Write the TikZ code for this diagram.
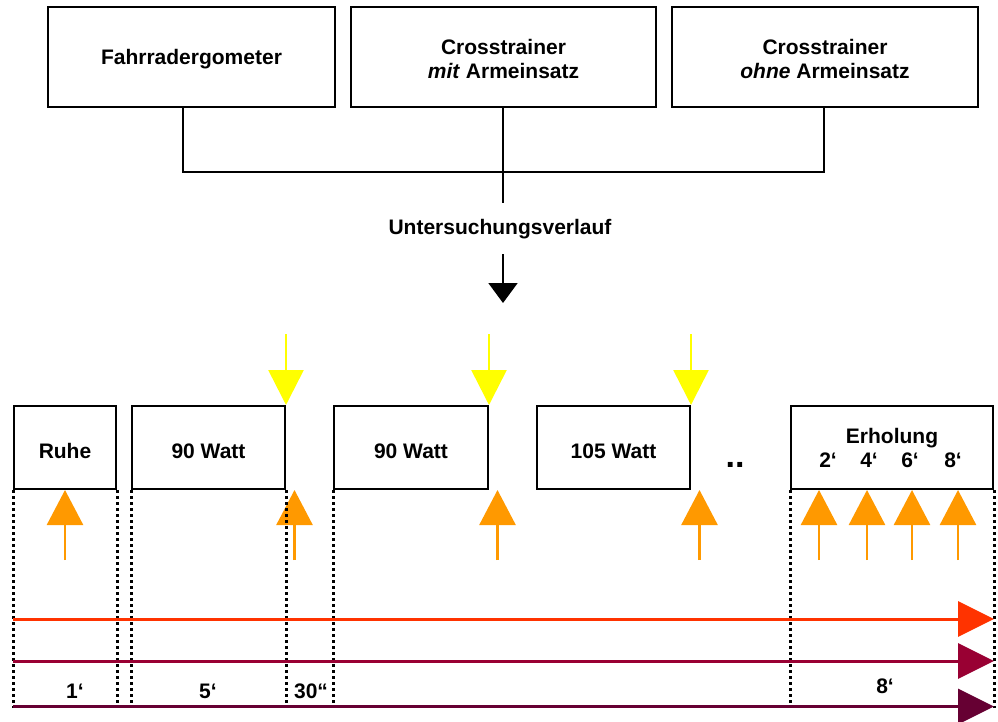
\documentclass[tikz,border=0pt]{standalone}
\usepackage{fontspec}
\setmainfont{Liberation Sans}
\usetikzlibrary{arrows.meta, positioning}
\definecolor{markYellow}{HTML}{FFFF00}
\definecolor{markOrange}{HTML}{FF9900}
\definecolor{lineRed}{HTML}{FF3300}
\definecolor{lineCrimson}{HTML}{990033}
\definecolor{lineMaroon}{HTML}{660033}

\begin{document}
\begin{tikzpicture}[
    x=1pt, y=-1pt,
    every node/.style={font=\fontsize{21}{24}\selectfont\bfseries},
    devicebox/.style={draw, line width=2pt, minimum width=#1, minimum height=100pt, align=center, inner sep=0pt},
    stagebox/.style={draw, line width=2pt, minimum width=#1, minimum height=83pt, inner sep=0pt, text height=21pt, text depth=0pt},
    link/.style={line width=2pt},
    flow/.style={-{Triangle[length=20pt, width=29pt]}, line width=2pt},
    probe/.style={-{Triangle[length=35pt, width=35pt]}, line width=2.6pt, draw=markYellow},
    sample/.style={-{Triangle[length=35pt, width=36pt]}, line width=2.6pt, draw=markOrange},
    phase/.style={line width=3pt, dash pattern=on 3pt off 3pt},
    timeline/.style={-{Triangle[length=36pt, width=35pt]}, line width=3pt}
]
    \useasboundingbox (0,0) rectangle (998,722);

    % devices
    \node[devicebox=287pt, text height=15pt, text depth=0pt] (fahrrad) at (191.5,57) {Fahrradergometer};
    \node[devicebox=305pt] (crossmit) at (503.5,57) {\rule{0pt}{19pt}Crosstrainer\\\textit{mit} Armeinsatz};
    \node[devicebox=306pt] (crossohne) at (825,57) {\rule{0pt}{19pt}Crosstrainer\\\textit{ohne} Armeinsatz};

    \coordinate (hub) at (503,172);
    \coordinate (stem) at (503,203);
    \draw[link] ([xshift=-8.5pt]fahrrad.south) |- (hub) -| ([xshift=-1pt]crossohne.south);
    \draw[link] ([xshift=-0.5pt]crossmit.south) -- (stem);

    \node[anchor=base] (verlauf) at (500,234) {Untersuchungsverlauf};
    \coordinate (flowtop) at (503,254);
    \coordinate (flowtip) at (503,303);
    \draw[flow] (flowtop) -- (flowtip);

    % stages
    \node[stagebox=102pt] (ruhe) at (65,447.5) {Ruhe};
    \node[stagebox=153pt] (wattA) at (208.5,447.5) {90 Watt};
    \node[stagebox=154pt] (wattB) at (411,447.5) {90 Watt};
    \node[stagebox=153pt] (wattC) at (613.5,447.5) {105 Watt};
    \node[stagebox=202pt] (erholung) at (892,447.5) {};
    \node[anchor=base] (erhtext) at (892,443) {Erholung};
    \foreach \x/\m in {828/2, 869/4, 910/6, 953/8}
        \node[anchor=base] (min\m) at (\x,467) {\m‘};
    \node[anchor=base, font=\fontsize{34}{34}\selectfont\bfseries] (dots) at (735,467) {..};

    % yellow and orange markers
    \foreach \s in {wattA, wattB, wattC}
        \draw[probe] ([yshift=71pt]\s.north east) -- (\s.north east);
    \draw[sample] ([yshift=-70pt]ruhe.south) -- (ruhe.south);
    \foreach \s in {wattA, wattB, wattC}
        \draw[sample] ([xshift=8.5pt, yshift=-70pt]\s.south east) -- ([xshift=8.5pt]\s.south east);
    \foreach \dx in {29, 77, 122, 168}
        \draw[sample] ([xshift=\dx pt, yshift=-70pt]erholung.south west) -- ([xshift=\dx pt]erholung.south west);

    % phase borders
    \coordinate (floor) at (0,708);
    \foreach \c in {ruhe.south west, ruhe.south east, wattA.south west, wattA.south east, wattB.south west, erholung.south west, erholung.south east}
        \draw[phase] (\c) -- (\c |- floor);

    % time lines
    \coordinate (lineA) at (0,619);
    \coordinate (lineB) at (0,661);
    \coordinate (lineC) at (0,706.5);
    \draw[timeline, draw=lineRed, fill=lineRed] (ruhe.south west |- lineA) -- (erholung.south east |- lineA);
    \draw[timeline, draw=lineCrimson, fill=lineCrimson] (ruhe.south west |- lineB) -- (erholung.south east |- lineB);
    \draw[timeline, draw=lineMaroon, fill=lineMaroon] (ruhe.south west |- lineC) -- (erholung.south east |- lineC);

    \node[anchor=base] (tRuhe) at (75,698) {1‘};
    \node[anchor=base] (tWatt) at (208,698) {5‘};
    \node[anchor=base] (tPause) at (311,698) {30“};
    \node[anchor=base] (tErholung) at (885,693) {8‘};
\end{tikzpicture}
\end{document}
